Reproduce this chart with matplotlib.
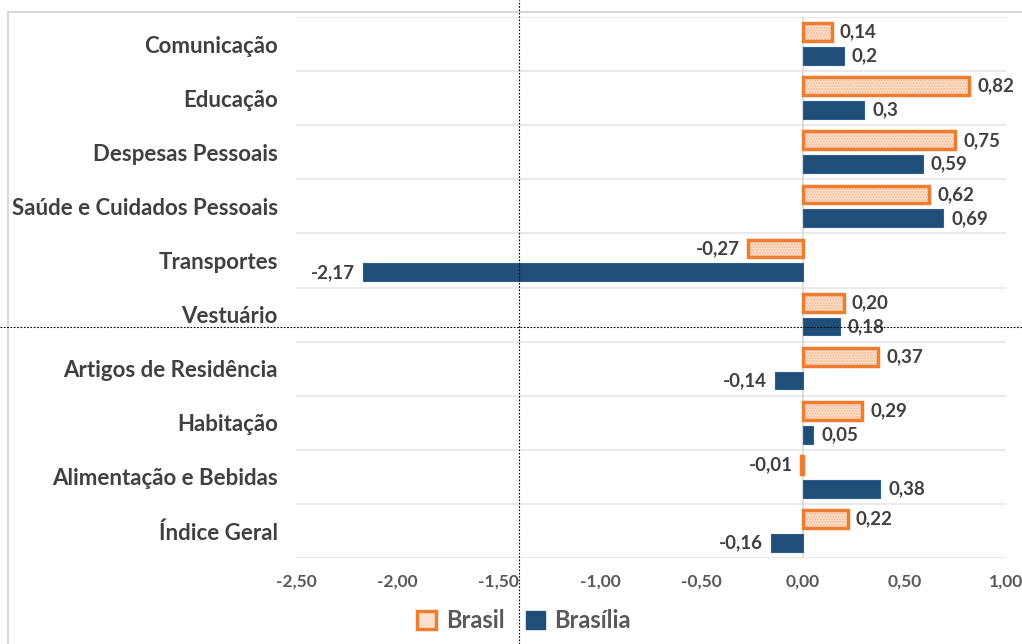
import matplotlib.pyplot as plt
import numpy as np
from matplotlib.lines import Line2D
from matplotlib.patches import Patch

categories = [
    "Comunicação",
    "Educação",
    "Despesas Pessoais",
    "Saúde e Cuidados Pessoais",
    "Transportes",
    "Vestuário",
    "Artigos de Residência",
    "Habitação",
    "Alimentação e Bebidas",
    "Índice Geral",
]
brasil = [0.14, 0.82, 0.75, 0.62, -0.27, 0.20, 0.37, 0.29, -0.01, 0.22]
brasilia = [0.2, 0.3, 0.59, 0.69, -2.17, 0.18, -0.14, 0.05, 0.38, -0.16]
brasil_labels = ["0,14", "0,82", "0,75", "0,62", "-0,27", "0,20", "0,37", "0,29", "-0,01", "0,22"]
brasilia_labels = ["0,2", "0,3", "0,59", "0,69", "-2,17", "0,18", "-0,14", "0,05", "0,38", "-0,16"]
xticks = [-2.5, -2.0, -1.5, -1.0, -0.5, 0.0, 0.5, 1.0]

plt.rcParams["font.family"] = ["Lato", "DejaVu Sans"]

ORANGE = "#ED7D31"
PEACH = "#FBE0CC"
BLUE = "#1F4E79"
TEXT = "#404040"

fig = plt.figure(figsize=(10.22, 6.44), dpi=100)
ax = fig.add_axes([296 / 1022, 1 - 558 / 644, 710 / 1022, 541 / 644])

y = np.arange(len(categories))
off = 0.22
h = 0.33

# Brasil: peach fill with dotted texture, thick orange edge
ax.barh(y - off, brasil, height=h, color=PEACH, hatch="......",
        edgecolor="#F6B88F", linewidth=0, zorder=3)
ax.barh(y - off, brasil, height=h, facecolor="none",
        edgecolor=ORANGE, linewidth=2.5, zorder=4)
ax.barh(y + off, brasilia, height=h, color=BLUE, edgecolor="#2E5F8E",
        linewidth=0.8, zorder=3)

for i in range(len(categories)):
    for val, lab, dy in ((brasil[i], brasil_labels[i], -off),
                         (brasilia[i], brasilia_labels[i], off)):
        pad = 0.04 if val >= 0 else -0.04
        ax.text(val + pad, i + dy, lab, ha="left" if val >= 0 else "right",
                va="center", fontsize=13.5, fontweight="bold", color=TEXT,
                zorder=5)

ax.set_xlim(-2.5, 1.0)
ax.set_ylim(len(categories) - 0.5, -0.5)
ax.set_xticks(xticks)
ax.set_xticklabels([f"{t:.2f}".replace(".", ",") for t in xticks],
                   fontsize=12.5, fontweight="bold", color="#595959")
ax.set_yticks(y)
ax.set_yticklabels(categories, fontsize=16, fontweight="bold", color=TEXT)
ax.tick_params(length=0, pad=13, axis="y")
ax.tick_params(length=0, pad=11, axis="x")

# category separators
for b in np.arange(-0.5, len(categories), 1.0):
    ax.axhline(b, color="#E6E6E6", linewidth=1.2, zorder=1)
ax.axvline(0, color="#D9D9D9", linewidth=1.2, zorder=2)
for s in ax.spines.values():
    s.set_visible(False)

handles = [
    Patch(facecolor=PEACH, edgecolor=ORANGE, linewidth=2.5, label="Brasil"),
    Patch(facecolor=BLUE, edgecolor=BLUE, label="Brasília"),
]
fig.legend(handles=handles, loc="center", bbox_to_anchor=(524 / 1022, 1 - 621 / 644),
           ncol=2, frameon=False, handlelength=0.8, handleheight=0.8,
           handletextpad=0.4, columnspacing=0.9,
           prop={"size": 17, "weight": "bold"}, labelcolor="#595959")

# chart border (partially visible in the cropped screenshot)
fig.add_artist(Line2D([8 / 1022, 8 / 1022], [0, 1 - 12 / 644],
                      transform=fig.transFigure, color="#D9D9D9", linewidth=1.5))
fig.add_artist(Line2D([8 / 1022, 1], [1 - 12 / 644, 1 - 12 / 644],
                      transform=fig.transFigure, color="#D9D9D9", linewidth=1.5))

# dotted crosshair from the screenshot
fig.add_artist(Line2D([519 / 1022, 519 / 1022], [0, 1], transform=fig.transFigure,
                      color="black", linewidth=0.8, linestyle=(0, (1.5, 1.5)), zorder=10))
fig.add_artist(Line2D([0, 1], [1 - 327 / 644, 1 - 327 / 644], transform=fig.transFigure,
                      color="black", linewidth=0.8, linestyle=(0, (1.5, 1.5)), zorder=10))

fig.savefig("out.png", dpi=100)
